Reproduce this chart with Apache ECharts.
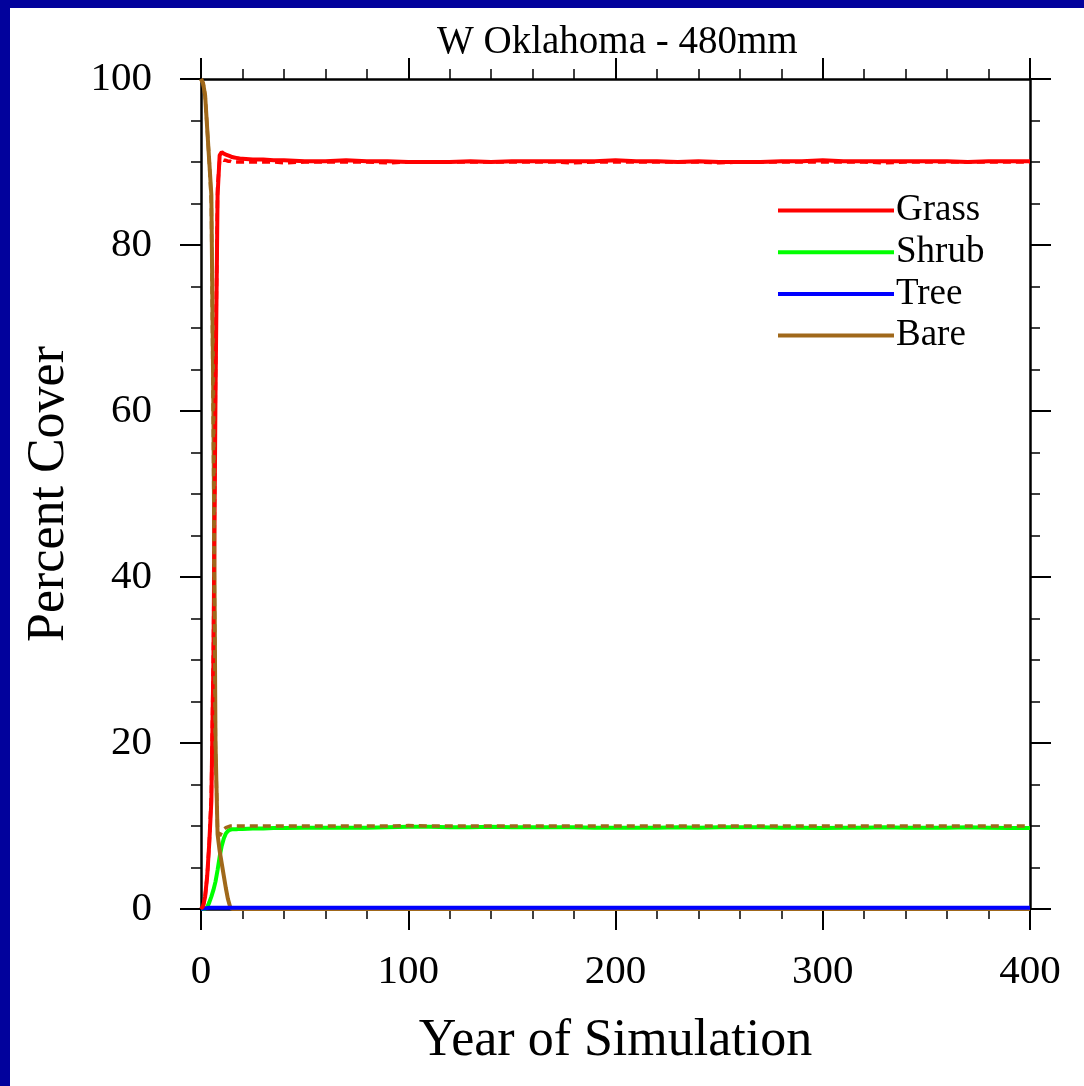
<!DOCTYPE html>
<html>
<head>
<meta charset="utf-8">
<script src="https://cdn.jsdelivr.net/npm/echarts@6/dist/echarts.min.js"></script>
<style>
  html, body { margin: 0; padding: 0; background: #fff; }
  #chart { width: 1084px; height: 1086px; }
</style>
</head>
<body>
<div id="chart"></div>
<script>
// year of simulation
var years = [0,1,2,3,4,5,6,7,8,9,10,11,12,13,14,15,16,17,18,19,20,
  25,30,35,40,50,60,70,80,90,100,110,120,130,140,150,160,170,180,190,200,
  210,220,230,240,250,260,270,280,290,300,310,320,330,340,350,360,370,380,390,400];

var grass = [0,0.3,1.5,4,8,13,30,62,86,90.8,91.2,91.0,90.9,90.8,90.7,90.6,90.55,90.5,90.45,90.4,90.4,
  90.3,90.3,90.2,90.2,90.1,90.1,90.2,90.1,90.1,90.0,90.0,90.0,90.1,90.0,90.1,90.1,90.1,90.1,90.1,90.2,
  90.1,90.1,90.0,90.1,90.0,90.0,90.0,90.1,90.1,90.2,90.1,90.1,90.1,90.1,90.1,90.1,90.0,90.1,90.1,90.1];

var shrub = [0,0,0.05,0.2,0.8,1.5,2.3,3.3,4.7,6.3,7.6,8.5,9.1,9.4,9.55,9.6,9.6,9.62,9.65,9.65,9.65,
  9.7,9.7,9.75,9.75,9.8,9.8,9.8,9.8,9.85,9.9,9.9,9.85,9.85,9.9,9.85,9.85,9.85,9.85,9.8,9.8,
  9.8,9.8,9.85,9.8,9.85,9.85,9.85,9.8,9.8,9.75,9.8,9.8,9.85,9.8,9.8,9.8,9.85,9.8,9.75,9.75];

var tree = [0,0.05,0.1,0.12,0.15,0.15,0.15,0.15,0.15,0.15,0.15,0.15,0.15,0.15,0.15,0.15,0.15,0.15,0.15,0.15,0.15,
  0.15,0.15,0.15,0.15,0.15,0.15,0.15,0.15,0.15,0.15,0.15,0.15,0.15,0.15,0.15,0.15,0.15,0.15,0.15,0.15,
  0.15,0.15,0.15,0.15,0.15,0.15,0.15,0.15,0.15,0.15,0.15,0.15,0.15,0.15,0.15,0.15,0.15,0.15,0.15,0.15];

var bare = [100,99.5,98,94,90,86,60,20,9,7,5.5,4,2.5,1.2,0.3,0,0,0,0,0,0,
  0,0,0,0,0,0,0,0,0,0,0,0,0,0,0,0,0,0,0,0,
  0,0,0,0,0,0,0,0,0,0,0,0,0,0,0,0,0,0,0,0];

// second run (dashed)
var grass2 = [0,0.3,1.5,4,8,14,32,64,87,90.2,90.3,90.2,90.2,90.1,90.1,90.0,90.0,90.0,90.0,90.0,90.0,
  90.0,90.0,90.0,89.9,90.0,90.0,90.0,90.0,89.9,90.0,90.0,90.0,90.0,90.0,90.0,90.0,90.0,89.9,90.0,90.0,
  90.0,90.0,90.0,90.0,89.9,90.0,90.0,90.0,90.0,90.0,90.0,90.0,89.9,90.0,90.0,90.0,90.0,90.0,90.0,90.0];

var bare2 = [100,99.5,98,94,90,85,55,19,9.5,8.8,9.3,9.6,9.8,9.9,10,10,10,10,10,10,10,
  10,10,10,10,10,10,10,10,10,10.05,10,10,10,10,10,10,10,10,10,10,
  10,10,10,10,10,10,10,10,10,10,10,10,10,10,10,10,10,10,10,10];

var legendNames = ['Grass', 'Shrub', 'Tree', 'Bare'];

function pairs(vals) {
  var out = [];
  for (var i = 0; i < years.length; i++) {
    out.push([years[i], vals[i]]);
  }
  return out;
}

var dom = document.getElementById('chart');
var myChart = echarts.init(dom, null, { renderer: 'canvas' });

var serif = 'Liberation Serif';

var tickStyle = { color: '#000', width: 2 };
var minorStyle = { color: '#000', width: 1.5 };

function xAx(pos, showLabel) {
  return {
    type: 'value',
    position: pos,
    min: 0,
    max: 400,
    interval: 100,
    axisLine: { show: true, onZero: false, lineStyle: { color: '#000', width: 2.5 } },
    axisTick: { show: true, inside: false, length: 21, lineStyle: tickStyle },
    minorTick: { show: true, splitNumber: 5, length: 10, lineStyle: minorStyle },
    splitLine: { show: false },
    axisLabel: { show: showLabel, margin: 43, color: '#000', fontFamily: serif, fontSize: 41 },
    name: showLabel ? 'Year of Simulation' : '',
    nameLocation: 'middle',
    nameGap: 106,
    nameTextStyle: { color: '#000', fontFamily: serif, fontSize: 52 }
  };
}

function yAx(pos, showLabel) {
  return {
    type: 'value',
    position: pos,
    min: 0,
    max: 100,
    interval: 20,
    axisLine: { show: true, onZero: false, lineStyle: { color: '#000', width: 2.5 } },
    axisTick: { show: true, inside: false, length: 21, lineStyle: tickStyle },
    minorTick: { show: true, splitNumber: 4, length: 10, lineStyle: minorStyle },
    splitLine: { show: false },
    axisLabel: { show: showLabel, margin: 49, color: '#000', fontFamily: serif, fontSize: 41 },
    name: showLabel ? 'Percent Cover' : '',
    nameLocation: 'middle',
    nameRotate: 90,
    nameGap: 126,
    nameTextStyle: { color: '#000', fontFamily: serif, fontSize: 52 }
  };
}

function line(name, vals, color, dashed) {
  return {
    name: name,
    type: 'line',
    data: pairs(vals),
    showSymbol: false,
    symbol: 'none',
    smooth: false,
    lineStyle: { color: color, width: dashed ? 3.5 : 4, type: dashed ? [8, 5] : 'solid' },
    itemStyle: { color: color },
    emphasis: { disabled: true },
    animation: false
  };
}

var option = {
  backgroundColor: '#fff',
  animation: false,
  title: {
    text: 'W Oklahoma - 480mm',
    left: 437,
    top: 23,
    padding: 0,
    textStyle: { color: '#000', fontFamily: serif, fontSize: 39, fontWeight: 'normal' }
  },
  grid: { left: 201, top: 79, right: 54, bottom: 177, containLabel: false },
  legend: {
    data: legendNames,
    orient: 'vertical',
    left: 778,
    top: 192,
    padding: 0,
    itemWidth: 116,
    itemHeight: 4,
    itemGap: 4.7,
    icon: 'rect',
    textStyle: { color: '#000', fontFamily: serif, fontSize: 37, lineHeight: 36, padding: [0, 0, 0, -3] }
  },
  xAxis: [xAx('bottom', true), xAx('top', false)],
  yAxis: [yAx('left', true), yAx('right', false)],
  graphic: [
    { type: 'rect', left: 0, top: 0, shape: { width: 1084, height: 8 }, style: { fill: '#02029c' }, z: 100 },
    { type: 'rect', left: 0, top: 0, shape: { width: 10, height: 1086 }, style: { fill: '#02029c' }, z: 100 }
  ],
  series: [
    line('Grass', grass, '#ff0000', false),
    line('Shrub', shrub, '#00ff00', false),
    line('Bare', bare, '#a0681a', false),
    line('Tree', tree, '#0000ff', false),
    line('Grass run2', grass2, '#ff0000', true),
    line('Bare run2', bare2, '#a0681a', true)
  ]
};

if (option && typeof option === 'object') {
  myChart.setOption(option, true);
}
</script>
</body>
</html>
